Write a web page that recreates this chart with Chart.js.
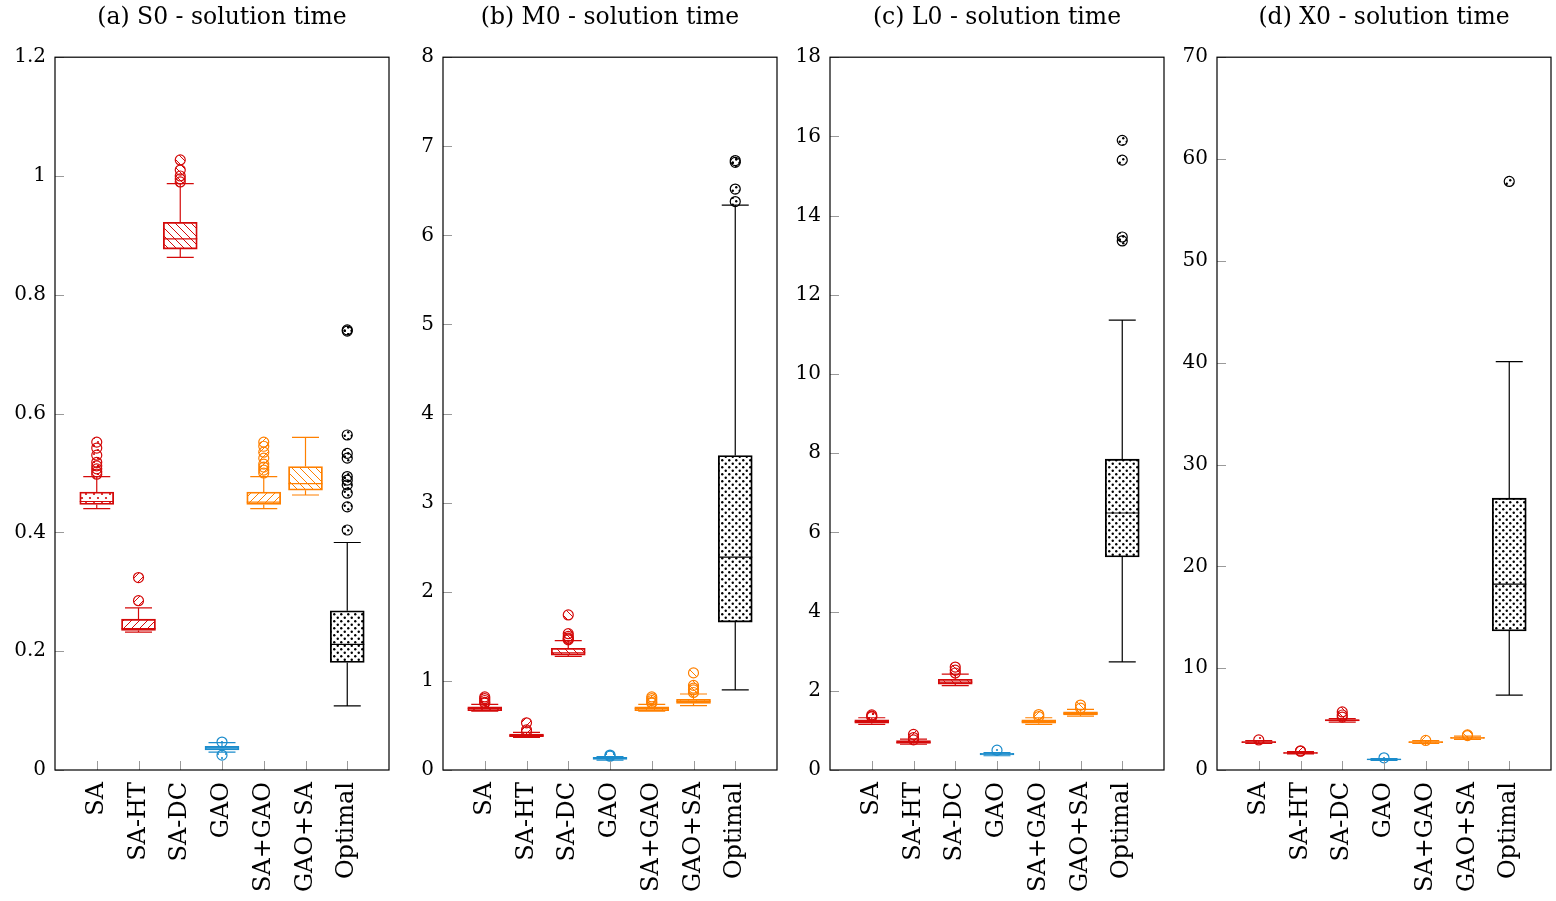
<!DOCTYPE html>
<html>
<head>
<meta charset="utf-8">
<script src="https://cdn.jsdelivr.net/npm/chart.js@4.4.0/dist/chart.umd.min.js"></script>
<style>
  html, body { margin: 0; padding: 0; background: #fff; overflow: hidden; width: 1556px; height: 901px; }
  canvas { position: absolute; top: 0; }
</style>
</head>
<body>
<canvas id="c0" width="444" height="901" style="left:0px"></canvas>
<canvas id="c1" width="444" height="901" style="left:388px"></canvas>
<canvas id="c2" width="444" height="901" style="left:775px"></canvas>
<canvas id="c3" width="444" height="901" style="left:1162px"></canvas>
<script>
const categories = ['SA', 'SA-HT', 'SA-DC', 'GAO', 'SA+GAO', 'GAO+SA', 'Optimal'];
const panelTitles = ['(a) S0 - solution time', '(b) M0 - solution time', '(c) L0 - solution time', '(d) X0 - solution time'];
const yMaxes = [1.2, 8, 18, 70];
const ySteps = [0.2, 1, 2, 10];

// S0
const s0Low = [0.440, 0.232, 0.863, 0.030, 0.440, 0.463, 0.108];
const s0Q1 = [0.447, 0.235, 0.877, 0.034, 0.447, 0.471, 0.181];
const s0Median = [0.452, 0.238, 0.894, 0.0375, 0.451, 0.482, 0.2115];
const s0Q3 = [0.468, 0.254, 0.922, 0.040, 0.468, 0.511, 0.268];
const s0High = [0.494, 0.273, 0.987, 0.046, 0.494, 0.560, 0.383];
const s0Outliers = [
  [0.552, 0.542, 0.530, 0.518, 0.512, 0.507, 0.502, 0.498],
  [0.324, 0.285],
  [1.027, 1.010, 1.000, 0.995, 0.990],
  [0.047, 0.025],
  [0.552, 0.545, 0.535, 0.525, 0.515, 0.510, 0.505, 0.500],
  [],
  [0.739, 0.741, 0.564, 0.533, 0.525, 0.494, 0.488, 0.480, 0.466, 0.443, 0.404]
];

// M0
const m0Low = [0.66, 0.365, 1.276, 0.11, 0.66, 0.722, 0.90];
const m0Q1 = [0.665, 0.374, 1.29, 0.12, 0.665, 0.748, 1.66];
const m0Median = [0.69, 0.385, 1.316, 0.13, 0.69, 0.77, 2.39];
const m0Q3 = [0.71, 0.404, 1.366, 0.143, 0.71, 0.793, 3.53];
const m0High = [0.737, 0.423, 1.451, 0.15, 0.737, 0.853, 6.34];
const m0Outliers = [
  [0.82, 0.80, 0.78, 0.76, 0.75],
  [0.53, 0.45, 0.43],
  [1.74, 1.53, 1.50, 1.48, 1.47, 1.46],
  [0.168, 0.155],
  [0.82, 0.80, 0.78, 0.76, 0.75],
  [1.09, 0.95, 0.92, 0.90, 0.87],
  [6.84, 6.82, 6.52, 6.38]
];

// L0
const l0Low = [1.15, 0.65, 2.13, 0.36, 1.15, 1.36, 2.73];
const l0Q1 = [1.18, 0.67, 2.17, 0.38, 1.18, 1.39, 5.38];
const l0Median = [1.22, 0.70, 2.22, 0.40, 1.22, 1.43, 6.49];
const l0Q3 = [1.27, 0.74, 2.29, 0.42, 1.27, 1.47, 7.85];
const l0High = [1.32, 0.78, 2.42, 0.44, 1.32, 1.53, 11.36];
const l0Outliers = [
  [1.39, 1.36, 1.34],
  [0.90, 0.82, 0.76],
  [2.60, 2.52, 2.45],
  [0.50],
  [1.40, 1.35],
  [1.64, 1.56],
  [15.9, 15.4, 13.46, 13.36]
];

// X0
const x0Low = [2.60, 1.58, 4.70, 0.95, 2.60, 3.00, 7.35];
const x0Q1 = [2.68, 1.64, 4.82, 1.00, 2.68, 3.10, 13.65];
const x0Median = [2.74, 1.68, 4.88, 1.04, 2.74, 3.16, 18.25];
const x0Q3 = [2.80, 1.72, 4.95, 1.08, 2.80, 3.22, 26.7];
const x0High = [2.88, 1.80, 5.05, 1.12, 2.88, 3.32, 40.1];
const x0Outliers = [
  [2.95],
  [1.87, 1.84],
  [5.7, 5.4, 5.2],
  [1.2],
  [2.9],
  [3.45, 3.38],
  [57.8]
];

const RED = '#d40a0a';
const ORANGE = '#ff8000';
const BLUE = '#1b8ccc';
const BLACK = '#000000';
const boxColors = [RED, RED, RED, BLUE, ORANGE, ORANGE, BLACK];
const boxPatterns = ['dots', 'ne', 'nw', 'dots', 'ne', 'nw', 'dense'];
const FONT = '"DejaVu Serif", serif';

const makePattern = (type, color) => {
  const size = type === 'dense' ? 7 : 8;
  const c = document.createElement('canvas');
  c.width = size;
  c.height = size;
  const g = c.getContext('2d');
  g.fillStyle = color;
  g.strokeStyle = color;
  g.lineWidth = 1;
  if (type === 'ne' || type === 'nw') {
    g.beginPath();
    if (type === 'ne') {
      g.moveTo(-1, size + 1); g.lineTo(size + 1, -1);
      g.moveTo(-1, 1); g.lineTo(1, -1);
      g.moveTo(size - 1, size + 1); g.lineTo(size + 1, size - 1);
    } else {
      g.moveTo(-1, -1); g.lineTo(size + 1, size + 1);
      g.moveTo(size - 1, -1); g.lineTo(size + 1, 1);
      g.moveTo(-1, size - 1); g.lineTo(1, size + 1);
    }
    g.stroke();
  } else {
    const r = type === 'dense' ? 1.2 : 1.1;
    const h = size / 2;
    [[h / 2, h / 2], [h / 2 + h, h / 2 + h]].forEach(([px, py]) => {
      g.beginPath();
      g.arc(px, py, r, 0, Math.PI * 2);
      g.fill();
    });
  }
  return g.createPattern(c, 'repeat');
};

const boxParts = (low, median, high) => ({
  id: 'boxParts',
  afterDatasetDraw(chart, args) {
    if (args.index !== 0) return;
    const ctx = chart.ctx;
    const xs = chart.scales.x;
    const ys = chart.scales.y;
    const meta = chart.getDatasetMeta(0);
    ctx.save();
    ctx.lineWidth = 1.2;
    categories.forEach((c, i) => {
      const x = xs.getPixelForValue(i + 1);
      const bar = meta.data[i];
      const top = Math.min(bar.y, bar.base);
      const bottom = Math.max(bar.y, bar.base);
      ctx.strokeStyle = boxColors[i];
      ctx.beginPath();
      ctx.moveTo(x, top); ctx.lineTo(x, ys.getPixelForValue(high[i]));
      ctx.moveTo(x, bottom); ctx.lineTo(x, ys.getPixelForValue(low[i]));
      ctx.moveTo(x - 13.5, ys.getPixelForValue(high[i])); ctx.lineTo(x + 13.5, ys.getPixelForValue(high[i]));
      ctx.moveTo(x - 13.5, ys.getPixelForValue(low[i])); ctx.lineTo(x + 13.5, ys.getPixelForValue(low[i]));
      ctx.moveTo(x - 17, ys.getPixelForValue(median[i])); ctx.lineTo(x + 17, ys.getPixelForValue(median[i]));
      ctx.stroke();
    });
    ctx.restore();
  },
  afterDraw(chart) {
    const ctx = chart.ctx;
    const { left, right, top, bottom } = chart.chartArea;
    const xs = chart.scales.x;
    const ys = chart.scales.y;
    ctx.save();
    ctx.strokeStyle = '#9a9a9a';
    ctx.lineWidth = 1;
    ctx.beginPath();
    ys.ticks.forEach((t) => {
      const y = Math.round(ys.getPixelForValue(t.value)) + 0.5;
      ctx.moveTo(left, y); ctx.lineTo(left + 9, y);
    });
    xs.ticks.forEach((t) => {
      const x = Math.round(xs.getPixelForValue(t.value)) + 0.5;
      ctx.moveTo(x, bottom); ctx.lineTo(x, bottom - 9);
    });
    ctx.stroke();
    ctx.strokeStyle = '#000';
    ctx.lineWidth = 1.2;
    ctx.strokeRect(left, top, right - left, bottom - top);
    ctx.restore();
  }
});

const drawPanel = (id, p, low, q1, median, q3, high, outliers) => {
  const ctx = document.getElementById(id).getContext('2d');
  const patterns = categories.map((c, i) => makePattern(boxPatterns[i], boxColors[i]));

  const boxData = categories.map((c, i) => ({ x: i + 1, y: [q1[i], q3[i]] }));
  const outlierData = [];
  const outlierColors = [];
  const outlierFills = [];
  outliers.forEach((vals, i) => {
    vals.forEach((v) => {
      outlierData.push({ x: i + 1, y: v });
      outlierColors.push(boxColors[i]);
      outlierFills.push(patterns[i]);
    });
  });

  new Chart(ctx, {
    type: 'bar',
    data: {
      datasets: [
        {
          type: 'bar',
          data: boxData,
          backgroundColor: patterns,
          borderColor: boxColors,
          borderWidth: 1.2,
          borderSkipped: false,
          barThickness: 34,
        },
        {
          type: 'scatter',
          data: outlierData,
          pointRadius: 5,
          pointHoverRadius: 5,
          pointBorderWidth: 1.2,
          pointBorderColor: outlierColors,
          pointBackgroundColor: outlierFills,
        },
      ],
    },
    options: {
      responsive: false,
      animation: false,
      layout: { padding: { left: 0, right: 55, top: 0, bottom: 0 } },
      plugins: {
        legend: { display: false },
        tooltip: { enabled: false },
        title: {
          display: true,
          fullSize: false,
          text: panelTitles[p],
          color: '#000',
          font: { family: FONT, size: 23.5, weight: 'normal' },
          padding: { top: 4, bottom: 25 },
        },
      },
      scales: {
        x: {
          type: 'linear',
          offset: false,
          min: 0,
          max: 8,
          afterBuildTicks: (s) => { s.ticks = categories.map((c, i) => ({ value: i + 1 })); },
          afterFit: (s) => { s.height = 131; },
          grid: { display: false, drawTicks: false, offset: false },
          border: { display: false },
          ticks: {
            autoSkip: false,
            minRotation: 90,
            maxRotation: 90,
            padding: 12,
            color: '#000',
            font: { family: FONT, size: 24 },
            callback: (v) => categories[v - 1],
          },
        },
        y: {
          min: 0,
          max: yMaxes[p],
          afterFit: (s) => { s.width = 55; },
          grid: { display: false, drawTicks: false },
          border: { display: false },
          ticks: {
            stepSize: ySteps[p],
            padding: 9,
            color: '#000',
            font: { family: FONT, size: 20 },
            callback: (v) => +v.toFixed(2),
          },
        },
      },
    },
    plugins: [boxParts(low, median, high)],
  });
};

drawPanel('c0', 0, s0Low, s0Q1, s0Median, s0Q3, s0High, s0Outliers);
drawPanel('c1', 1, m0Low, m0Q1, m0Median, m0Q3, m0High, m0Outliers);
drawPanel('c2', 2, l0Low, l0Q1, l0Median, l0Q3, l0High, l0Outliers);
drawPanel('c3', 3, x0Low, x0Q1, x0Median, x0Q3, x0High, x0Outliers);
</script>
</body>
</html>
